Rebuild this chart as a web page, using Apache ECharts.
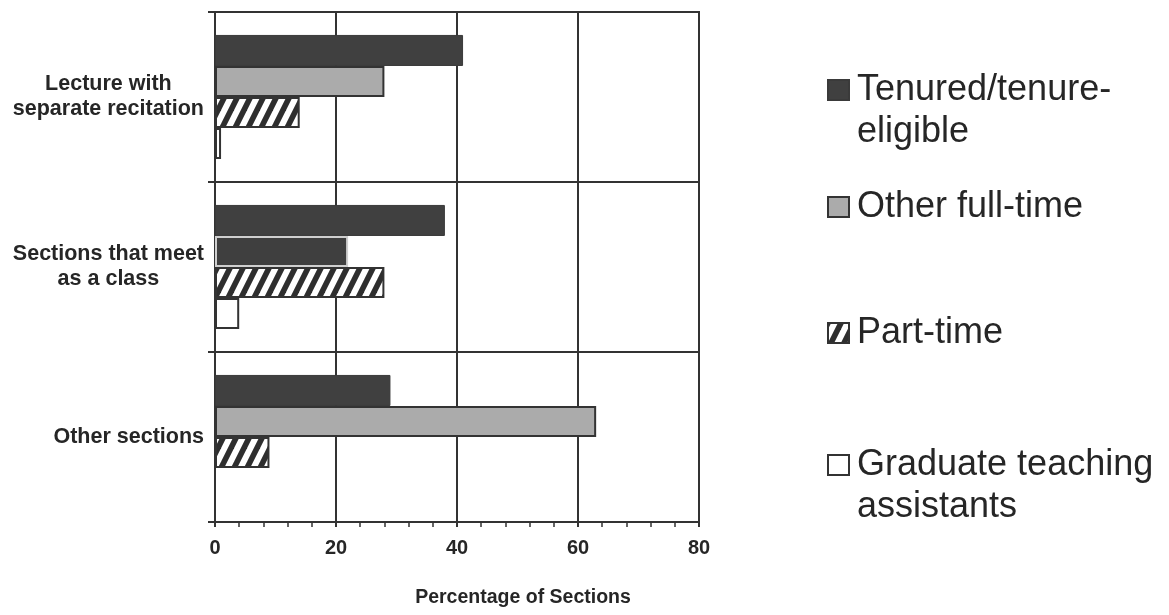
<!DOCTYPE html>
<html>
<head>
<meta charset="utf-8">
<script src="https://cdn.jsdelivr.net/npm/echarts@6/dist/echarts.min.js"></script>
<style>
  html, body { margin: 0; padding: 0; background: #fff; }
  #chart { width: 1169px; height: 615px; }
</style>
</head>
<body>
<div id="chart"></div>
<script>
// Section types (top to bottom) and the share of sections taught by each faculty group
const categories = ['Lecture with\nseparate recitation', 'Sections that meet\nas a class', 'Other sections'];
const seriesNames = ['Tenured/tenure-\neligible', 'Other full-time', 'Part-time', 'Graduate teaching\nassistants'];
const tenured = [41, 38, 29];
const otherFullTime = [28, 22, 63];
const partTime = [14, 28, 9];
const gradAssistants = [1, 4, 0];
const xTicks = [0, 20, 40, 60, 80];

const INK = '#333333';
const TEXT = '#262626';
const FONT = 'Liberation Sans, Arial, sans-serif';

// Diagonal "/" hatch used for the part-time bars
function makeHatch() {
  const w = 13, h = 26;
  const c = document.createElement('canvas');
  c.width = w; c.height = h;
  const ctx = c.getContext('2d');
  ctx.fillStyle = '#ffffff';
  ctx.fillRect(0, 0, w, h);
  ctx.strokeStyle = '#2e2e2e';
  ctx.lineWidth = 5.6;
  for (let k = -1; k <= 1; k++) {
    // extend each stroke past the tile so the corners join seamlessly
    ctx.beginPath();
    ctx.moveTo(k * w - w, 2 * h);
    ctx.lineTo(k * w + 2 * w, -h);
    ctx.stroke();
  }
  return { image: c, repeat: 'repeat' };
}
const hatch = makeHatch();

const chart = echarts.init(document.getElementById('chart'), null, { renderer: 'canvas' });

const barBase = { type: 'bar', barGap: '0%', barCategoryGap: '27%' };

// One legend block per group so each entry sits at its own height;
// two-line names get a leading blank line so the swatch lines up with the first line.
const LINE = 42;
function legendEntry(name, iconCenter) {
  const twoLines = name.indexOf('\n') >= 0;
  return {
    data: [name],
    orient: 'vertical',
    left: 827,
    top: iconCenter - (twoLines ? 1.5 : 0.5) * LINE,
    padding: 0,
    icon: 'rect',
    itemWidth: 21,
    itemHeight: 20,
    selectedMode: false,
    formatter: n => (twoLines ? '\n' + n : n),
    textStyle: {
      fontFamily: FONT,
      fontSize: 36,
      color: TEXT,
      lineHeight: LINE,
      padding: [0, 0, 0, 3]
    }
  };
}

chart.setOption({
  animation: false,
  backgroundColor: '#ffffff',
  grid: {
    left: 215, top: 12, width: 484, height: 510,
    show: true, borderColor: INK, borderWidth: 2, backgroundColor: 'transparent',
    containLabel: false
  },
  legend: [
    legendEntry(seriesNames[0], 90),
    legendEntry(seriesNames[1], 207),
    legendEntry(seriesNames[2], 333),
    legendEntry(seriesNames[3], 465)
  ],
  xAxis: {
    type: 'value',
    min: 0, max: 80, interval: 20,
    name: 'Percentage of Sections',
    nameLocation: 'middle',
    nameGap: 66,
    nameTextStyle: { fontFamily: FONT, fontSize: 19.5, fontWeight: 'bold', color: TEXT, padding: [0, 0, 0, 132] },
    axisLine: { show: true, lineStyle: { color: INK, width: 2 } },
    axisTick: { show: true, length: 5, lineStyle: { color: INK, width: 2 } },
    minorTick: { show: true, splitNumber: 5, length: 5, lineStyle: { color: INK, width: 1.5 } },
    splitLine: { show: true, lineStyle: { color: INK, width: 2 } },
    axisLabel: {
      margin: 16, fontFamily: FONT, fontSize: 20, fontWeight: 'bold', color: TEXT,
      formatter: v => (xTicks.indexOf(v) >= 0 ? String(v) : '')
    }
  },
  yAxis: {
    type: 'category',
    data: categories,
    inverse: true,
    axisLine: { show: true, lineStyle: { color: INK, width: 2 } },
    axisTick: { show: true, length: 7, lineStyle: { color: INK, width: 2 } },
    splitLine: { show: true, lineStyle: { color: INK, width: 2 } },
    axisLabel: {
      margin: 11,
      formatter: v => v.split('\n').map(s => '{c|' + s + '}').join('\n'),
      rich: {
        c: { align: 'center', fontFamily: FONT, fontSize: 21.5, fontWeight: 'bold', lineHeight: 25, color: TEXT }
      }
    }
  },
  series: [
    Object.assign({}, barBase, {
      name: seriesNames[0],
      data: tenured,
      itemStyle: { color: '#404040', borderColor: '#3a3a3a', borderWidth: 1 }
    }),
    Object.assign({}, barBase, {
      name: seriesNames[1],
      // the middle bar prints dark with a pale rim
      data: otherFullTime.map((v, i) => i === 1
        ? { value: v, itemStyle: { color: '#3f3f3f', borderColor: '#cfcfcf', borderWidth: 2 } }
        : v),
      itemStyle: { color: '#ababab', borderColor: INK, borderWidth: 2 }
    }),
    Object.assign({}, barBase, {
      name: seriesNames[2],
      data: partTime,
      itemStyle: { color: hatch, borderColor: INK, borderWidth: 2 }
    }),
    Object.assign({}, barBase, {
      name: seriesNames[3],
      data: gradAssistants,
      itemStyle: { color: '#ffffff', borderColor: INK, borderWidth: 2 }
    })
  ]
});
</script>
</body>
</html>
